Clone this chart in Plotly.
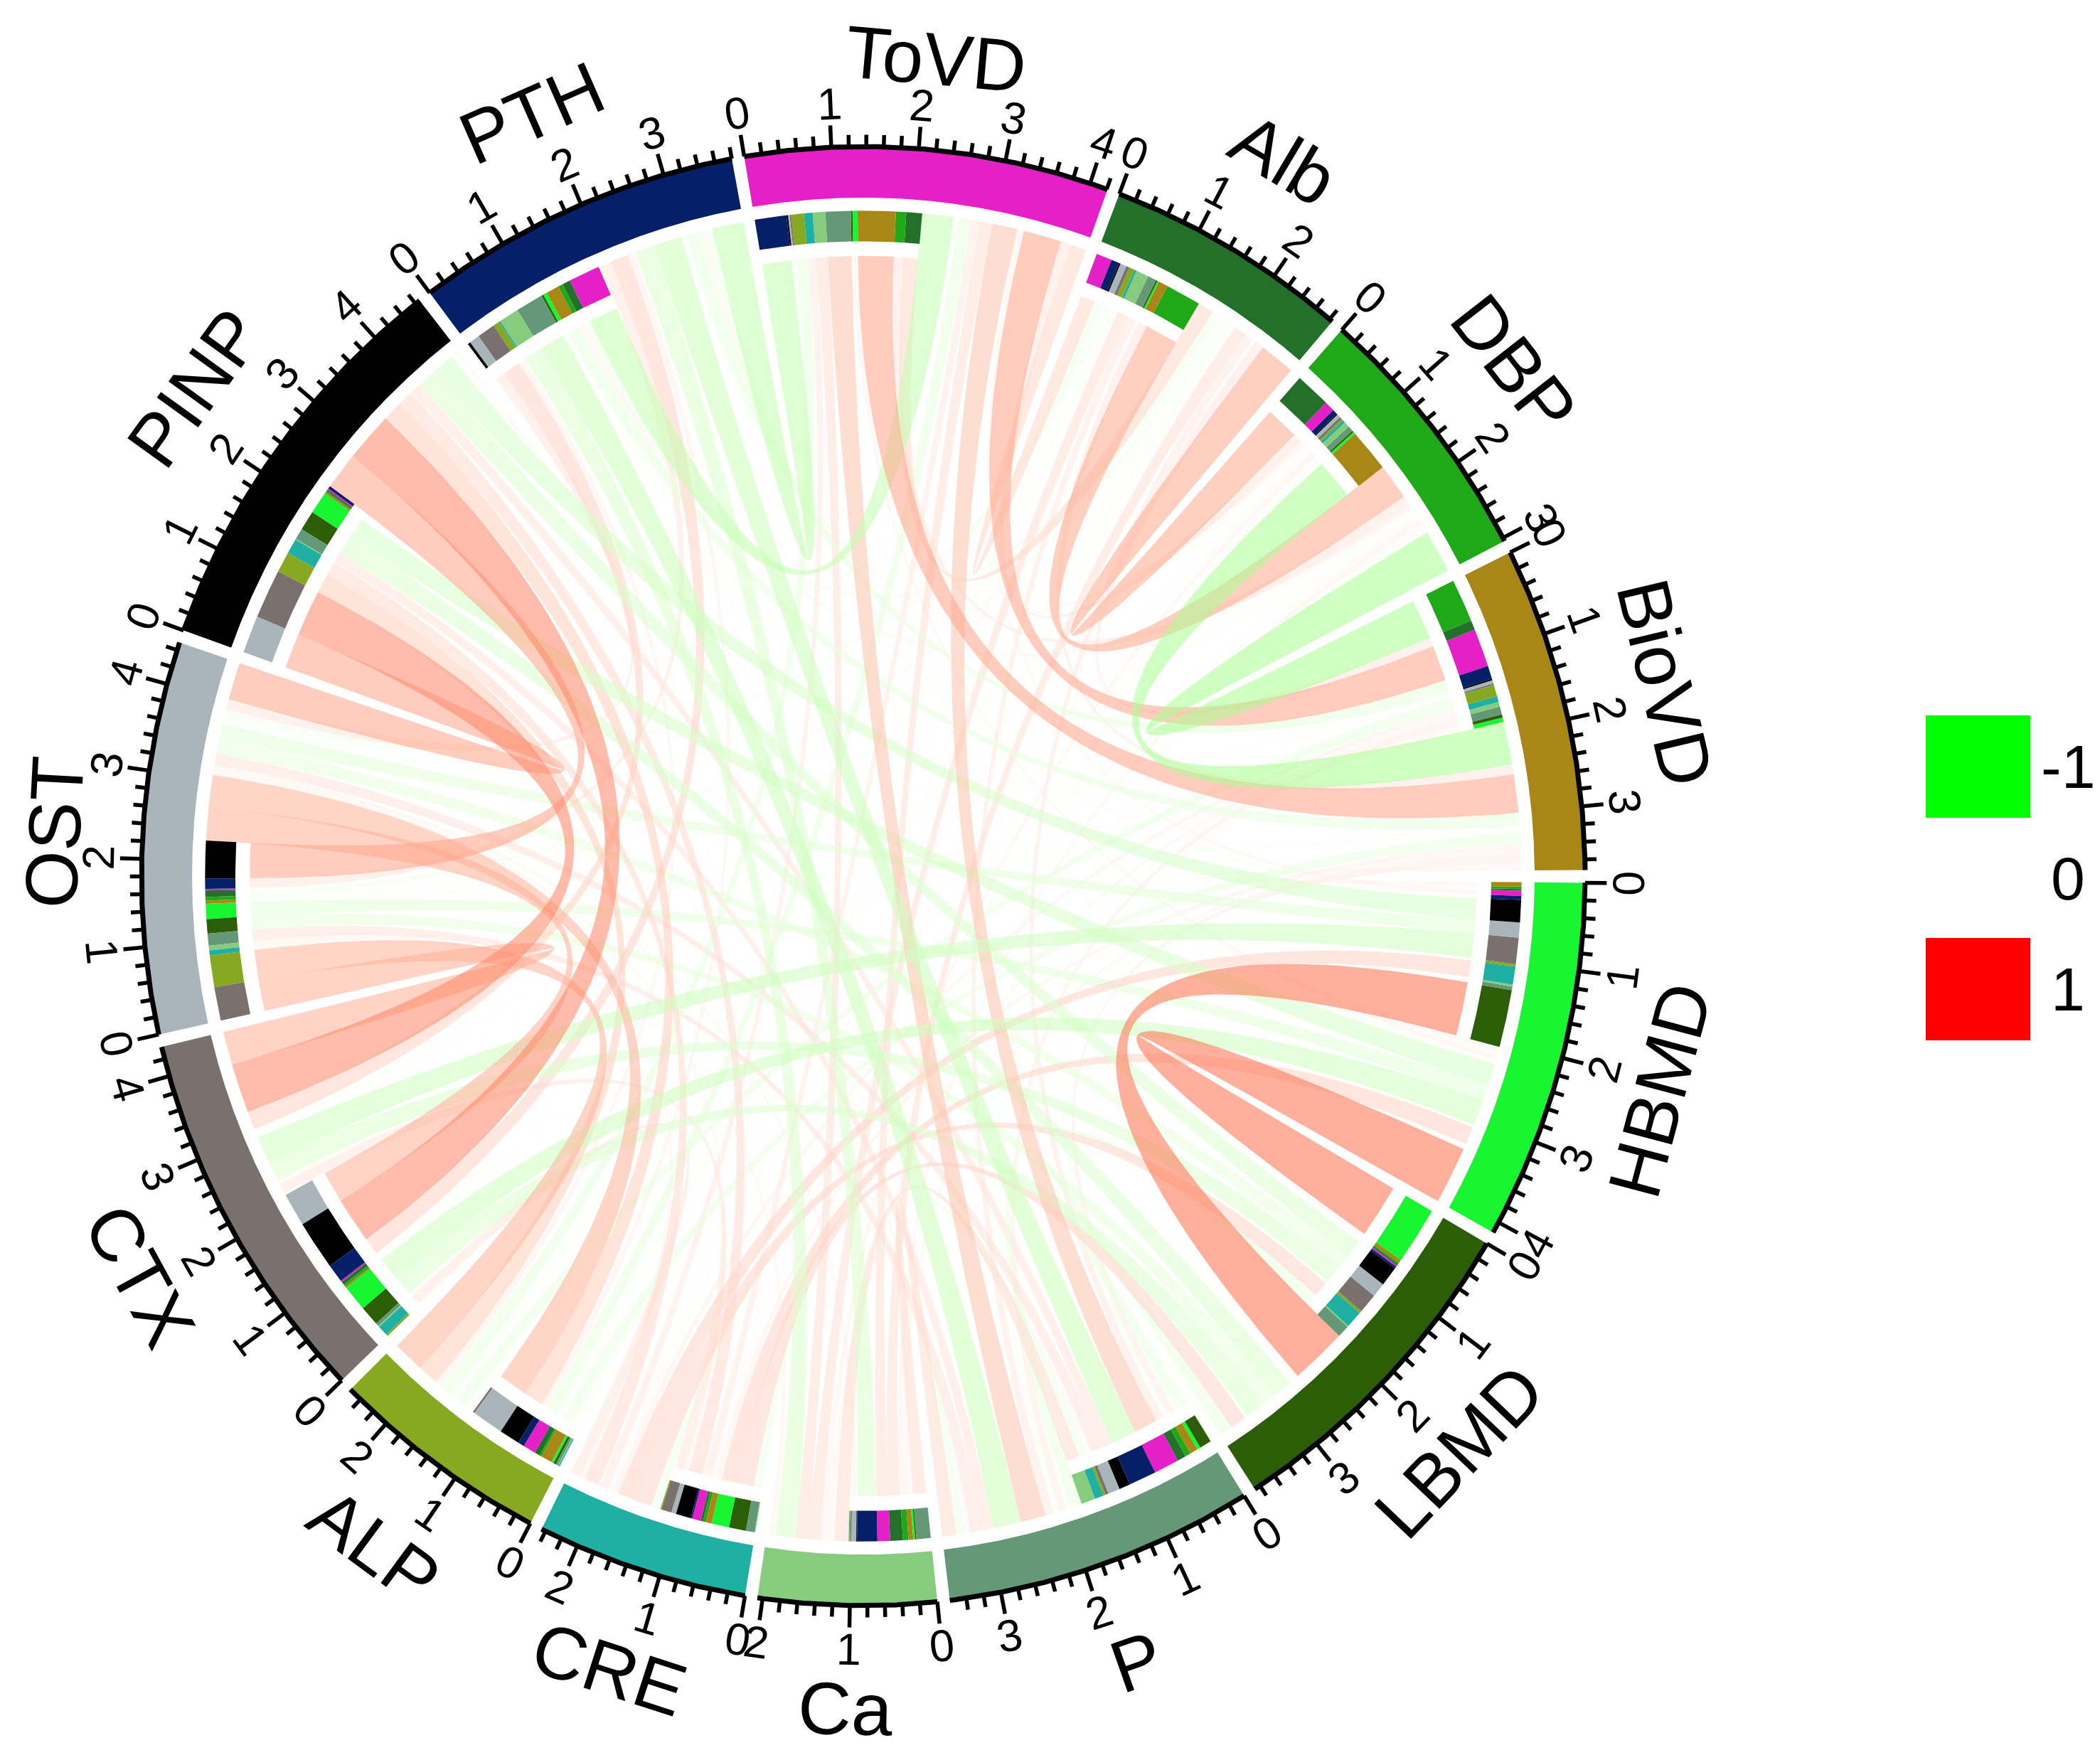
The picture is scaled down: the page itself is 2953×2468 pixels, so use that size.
import numpy as np
import plotly.graph_objects as go

# variables, in circle order (clockwise from the top)
sectors = ["ToVD", "Alb", "DBP", "BioVD", "HBMD", "LBMD", "P", "Ca", "CRE", "ALP",
           "CTX", "OST", "PINP", "PTH"]
sector_colors = ["#E520C8", "#227029", "#1FA919", "#A88716", "#18F531", "#2B5E06",
                 "#649876", "#87CB7F", "#1FB0A3", "#87A922", "#7A716F", "#A8B5BB",
                 "#000000", "#061F69"]

# correlation coefficients, upper triangle: each row against the variables after it
r_ToVD = [0.20, 0.13, 0.48, 0.065, 0.02, 0.32, 0.16, 0.11, -0.16, -0.02, 0.02, -0.02, -0.40]
r_Alb = [0.45, 0.12, 0.02, -0.02, 0.11, 0.16, 0.03, -0.07, -0.04, -0.08, -0.02, -0.10]
r_DBP = [-0.54, 0.03, 0.02, -0.07, 0.07, 0.035, 0.025, -0.03, -0.045, 0.015, 0.06]
r_BioVD = [0.055, 0.04, 0.10, 0.06, 0.075, -0.145, -0.02, -0.04, -0.02, -0.165]
r_HBMD = [0.72, -0.045, 0.025, 0.225, -0.03, -0.33, -0.19, -0.28, -0.05]
r_LBMD = [-0.15, 0.015, 0.215, -0.03, -0.25, -0.18, -0.25, -0.025]
r_P = [0.18, -0.11, 0.03, 0.04, 0.15, 0.14, -0.35]
r_Ca = [0.01, 0.01, -0.015, 0.06, 0.01, -0.255]
r_CRE = [-0.015, 0.13, 0.06, 0.19, 0.02]
r_ALP = [0.025, 0.40, 0.26, 0.08]
r_CTX = [0.42, 0.62, 0.23]
r_OST = [0.47, 0.13]
r_PINP = [0.035]

legend_values = ["-1", "0", "1"]
legend_colors = ["#00FF00", None, "#FF0000"]

rows = [r_ToVD, r_Alb, r_DBP, r_BioVD, r_HBMD, r_LBMD, r_P, r_Ca, r_CRE, r_ALP,
        r_CTX, r_OST, r_PINP]
n = len(sectors)
corr = np.zeros((n, n))
for i, row in enumerate(rows):
    for k, v in enumerate(row):
        j = i + 1 + k
        corr[i, j] = v
        corr[j, i] = v

# page / circle geometry (pixels of the page)
W, H = 2953, 2468
CX, CY = 1206, 1224
RX, RY = 1015, 1026
x_range = [-CX / RX, (W - CX) / RX]
y_range = [-(H - CY) / RY, CY / RY]

GAP = 1.0
START = 99.5
BAND_IN, BAND_OUT = 0.93, 1.0
BAR_IN, BAR_OUT = 0.87, 0.912
R_TGT = 0.912
R_SRC = 0.85
TICK_MAJ, TICK_MIN = 0.03, 0.016
DIGIT_R = 1.06
NAME_R = 1.142
NAME_SIZE = 104
DIGIT_SIZE = 63
FONT = "Liberation Sans, Arial, sans-serif"

# rough Arial advance widths (em) used to keep rotated names inside the page
CHAR_W = {"T": .611, "o": .556, "V": .667, "D": .722, "A": .667, "l": .222, "b": .556,
          "B": .667, "P": .667, "i": .222, "H": .722, "M": .833, "L": .556, "C": .722,
          "a": .556, "R": .722, "E": .667, "X": .667, "S": .667, "O": .778, "N": .722,
          "I": .278}

absr = np.abs(corr)
half = absr.sum(axis=1)
total = 2 * half
dpu = (360 - n * GAP) / total.sum()
starts = []
a = START
for i in range(n):
    starts.append(a)
    a -= total[i] * dpu + GAP


def ang(i, x):
    return np.deg2rad(starts[i] - np.asarray(x) * dpu)


def arc(i, x0, x1, r, step=0.01):
    m = max(2, int(abs(x1 - x0) / step) + 2)
    t = ang(i, np.linspace(x0, x1, m))
    return list(r * np.cos(t)), list(r * np.sin(t))


def annulus(i, x0, x1, r0, r1):
    xa, ya = arc(i, x0, x1, r1)
    xb, yb = arc(i, x1, x0, r0)
    return xa + xb + [xa[0]], ya + yb + [ya[0]]


def facing(t):
    deg = (np.rad2deg(t) + 180) % 360 - 180
    return 90 - deg if deg >= 0 else -90 - deg


# ---- colours: LAB ramp green - white - red
def _lin(c):
    c = np.asarray(c, float) / 255
    return np.where(c <= 0.04045, c / 12.92, ((c + 0.055) / 1.055) ** 2.4)


def _gam(c):
    c = np.clip(c, 0, 1)
    return np.where(c <= 0.0031308, 12.92 * c, 1.055 * c ** (1 / 2.4) - 0.055) * 255


M_XYZ = np.array([[0.4124, 0.3576, 0.1805], [0.2126, 0.7152, 0.0722], [0.0193, 0.1192, 0.9505]])
WP = np.array([0.95047, 1.0, 1.08883])
D = 6 / 29


def to_lab(rgb):
    xyz = M_XYZ @ _lin(rgb) / WP
    f = np.where(xyz > D ** 3, np.cbrt(xyz), xyz / (3 * D * D) + 4 / 29)
    return np.array([116 * f[1] - 16, 500 * (f[0] - f[1]), 200 * (f[1] - f[2])])


def from_lab(lab):
    fy = (lab[0] + 16) / 116
    f = np.array([fy + lab[1] / 500, fy, fy - lab[2] / 200])
    xyz = np.where(f > D, f ** 3, 3 * D * D * (f - 4 / 29)) * WP
    return _gam(np.linalg.inv(M_XYZ) @ xyz)


LAB_W = to_lab([255, 255, 255])
LAB_R = to_lab([255, 0, 0])
LAB_G = to_lab([0, 255, 0])


def link_color(r, alpha=0.55):
    end = LAB_R if r > 0 else LAB_G
    c = from_lab(LAB_W + abs(r) * (end - LAB_W))
    return "rgba(%d,%d,%d,%.2f)" % (round(c[0]), round(c[1]), round(c[2]), alpha)


# ---- slots along every sector: outgoing part first, then incoming part
src_slot = [dict() for _ in range(n)]
tgt_slot = [dict() for _ in range(n)]
for i in range(n):
    pos = 0.0
    for k in range(1, n):
        j = (i - k) % n
        w = absr[i, j]
        src_slot[i][j] = (pos, pos + w)
        tgt_slot[i][j] = (half[i] + pos, half[i] + pos + w)
        pos += w

fig = go.Figure()

# ---- links
links = []
for i in range(n):
    for j in range(n):
        if i != j and absr[i, j] > 0:
            links.append((absr[i, j], i, j))
links.sort()
tt = np.linspace(0, 1, 60)
for w, i, j in links:
    s0, s1 = src_slot[i][j]
    t0, t1 = tgt_slot[j][i]
    ax, ay = arc(i, s0, s1, R_SRC)
    bx, by = arc(j, t0, t1, R_TGT)
    c1x = list((1 - tt) ** 2 * ax[-1] + tt ** 2 * bx[0])
    c1y = list((1 - tt) ** 2 * ay[-1] + tt ** 2 * by[0])
    c2x = list((1 - tt) ** 2 * bx[-1] + tt ** 2 * ax[0])
    c2y = list((1 - tt) ** 2 * by[-1] + tt ** 2 * ay[0])
    fig.add_trace(go.Scatter(
        x=ax + c1x + bx + c2x, y=ay + c1y + by + c2y, mode="lines",
        fill="toself", fillcolor=link_color(corr[i, j]), line=dict(width=0),
        hoverinfo="skip"))

# ---- target-proportion bars (coloured by the partner sector)
for j in range(n):
    xs, ys = [], []
    for i in range(n):
        if i == j:
            continue
        s0, s1 = src_slot[i][j]
        if s1 - s0 <= 0:
            continue
        px, py = annulus(i, s0, s1, BAR_IN, BAR_OUT)
        xs += px + [None]
        ys += py + [None]
    fig.add_trace(go.Scatter(x=xs, y=ys, mode="lines", fill="toself",
                             fillcolor=sector_colors[j], line=dict(width=0),
                             hoverinfo="skip"))

# ---- sector bands
for i in range(n):
    px, py = annulus(i, 0, total[i], BAND_IN, BAND_OUT)
    fig.add_trace(go.Scatter(x=px, y=py, mode="lines", fill="toself",
                             fillcolor=sector_colors[i], line=dict(width=0),
                             hoverinfo="skip"))

# ---- axes: baseline arcs, ticks, labels
annotations = []
bx_all, by_all, tx, ty = [], [], [], []
for i in range(n):
    px, py = arc(i, 0, total[i], BAND_OUT)
    bx_all += px + [None]
    by_all += py + [None]
    m = int(np.floor(total[i] / 0.2 + 1e-6))
    for k in range(m + 1):
        v = round(k * 0.2, 6)
        major = abs(v - round(v)) < 1e-6
        ln = TICK_MAJ if major else TICK_MIN
        t = ang(i, v)
        tx += [np.cos(t), (1 + ln) * np.cos(t), None]
        ty += [np.sin(t), (1 + ln) * np.sin(t), None]
        if major:
            annotations.append(dict(
                x=DIGIT_R * np.cos(t), y=DIGIT_R * np.sin(t), text=str(int(round(v))),
                showarrow=False, textangle=facing(t), xanchor="center", yanchor="middle",
                font=dict(family=FONT, size=DIGIT_SIZE, color="black")))
    # sector name, pulled inwards only as far as needed to stay on the page
    t = float(ang(i, total[i] / 2))
    rot = facing(t)
    wtxt = sum(CHAR_W.get(ch, 0.6) for ch in sectors[i]) * NAME_SIZE
    htxt = 1.15 * NAME_SIZE
    ra = np.deg2rad(rot)
    hx = abs(np.cos(ra)) * wtxt / 2 + abs(np.sin(ra)) * htxt / 2
    hy = abs(np.sin(ra)) * wtxt / 2 + abs(np.cos(ra)) * htxt / 2
    rr = NAME_R
    while rr > 1.11:
        px_c = CX + rr * RX * np.cos(t)
        py_c = CY - rr * RY * np.sin(t)
        if hx + 2 <= px_c <= W - hx - 2 and hy + 2 <= py_c <= H - hy - 2:
            break
        rr -= 0.002
    annotations.append(dict(
        x=rr * np.cos(t), y=rr * np.sin(t), text=sectors[i], showarrow=False,
        textangle=rot, xanchor="center", yanchor="middle",
        font=dict(family=FONT, size=NAME_SIZE, color="black")))

fig.add_trace(go.Scatter(x=bx_all, y=by_all, mode="lines",
                         line=dict(color="black", width=7), hoverinfo="skip"))
fig.add_trace(go.Scatter(x=tx, y=ty, mode="lines",
                         line=dict(color="black", width=5.5), hoverinfo="skip"))

# ---- colour legend
shapes = []
leg_x0, leg_x1 = 2700, 2847
leg_y = [1070, 1227, 1383]
for lab, col, yc in zip(legend_values, legend_colors, leg_y):
    if col:
        shapes.append(dict(type="rect", xref="paper", yref="paper",
                           x0=leg_x0 / W, x1=leg_x1 / W,
                           y0=1 - (yc + 72) / H, y1=1 - (yc - 72) / H,
                           fillcolor=col, line=dict(width=0)))
    annotations.append(dict(xref="paper", yref="paper", x=2900 / W, y=1 - yc / H,
                            text=lab, showarrow=False, xanchor="center",
                            yanchor="middle",
                            font=dict(family=FONT, size=86, color="black")))

fig.update_layout(
    width=W, height=H, margin=dict(l=0, r=0, t=0, b=0),
    paper_bgcolor="white", plot_bgcolor="white", showlegend=False,
    xaxis=dict(range=x_range, visible=False, fixedrange=True),
    yaxis=dict(range=y_range, visible=False, fixedrange=True),
    annotations=annotations, shapes=shapes)

fig.write_html("out.html")
